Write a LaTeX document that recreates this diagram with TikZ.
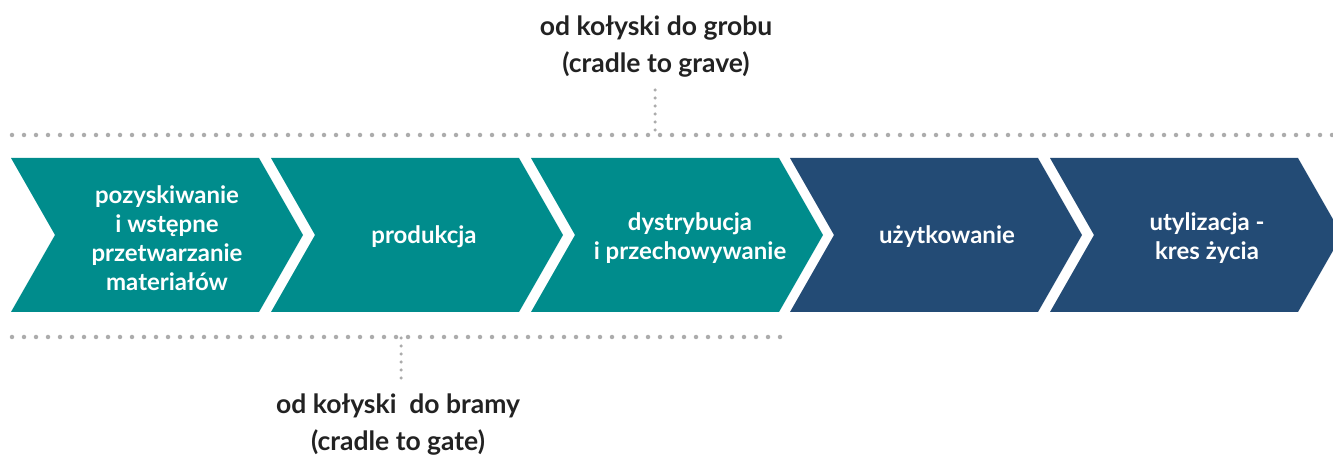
\documentclass[tikz,border=0pt]{standalone}
\usepackage{fontspec}
\setmainfont{Lato}
\definecolor{StageTeal}{RGB}{0, 140, 140}
\definecolor{StageNavy}{RGB}{35, 75, 117}
\definecolor{DotGrey}{RGB}{172, 172, 172}
\definecolor{LabelDark}{RGB}{34, 34, 34}
\usetikzlibrary{positioning, calc}

\begin{document}
\begin{tikzpicture}[x=1pt, y=1pt,
    stagetext/.style={text=white, font=\fontsize{24}{29}\selectfont\bfseries, align=center},
    scopetext/.style={text=LabelDark, font=\fontsize{26.5}{37}\selectfont\bfseries, align=center},
    dotline/.style={DotGrey, line width=4.5pt, line cap=round, dash pattern=on 0pt off 12pt},
    vdotline/.style={DotGrey, line width=3.5pt, line cap=round, dash pattern=on 0pt off 8pt}]
    \useasboundingbox (0,0) rectangle (1333,455);

    % Chevrons of the life cycle
    \foreach \x/\col in {11/StageTeal, 271/StageTeal, 531/StageTeal, 790/StageNavy, 1050/StageNavy} {
        \fill[\col] (\x,297) -- ++(248,0) -- ++(44,-77) -- ++(-44,-77) -- ++(-248,0) -- ++(44,77) -- cycle;
    }

    % Stage labels
    \node[stagetext] (raw) at (167,217) {pozyskiwanie\\i wstępne\\przetwarzanie\\materiałów};
    \node[stagetext] (prod) at (424,218) {produkcja};
    \node[stagetext] (dist) at (690,217) {dystrybucja\\i przechowywanie};
    \node[stagetext] (use) at (947,218) {użytkowanie};
    \node[stagetext] (eol) at (1207,217) {utylizacja -\\kres życia};

    % Scope lines
    \coordinate (graveL) at (12,320);
    \coordinate (graveR) at (1333,320);
    \coordinate (gateL) at (12,118);
    \coordinate (gateR) at (783,118);
    \draw[dotline] (graveL) -- (graveR);
    \draw[dotline] (gateL) -- (gateR);

    % Scope labels
    \node[scopetext] (grave) at (656,408) {od kołyski do grobu\\(cradle to grave)};
    \node[scopetext] (gate) at (398,30) {od kołyski\ \ do bramy\\(cradle to gate)};
    \coordinate (graveTick) at (655,365);
    \coordinate (gateTick) at (401,77);
    \draw[vdotline] (graveTick) -- (graveTick |- graveL);
    \draw[vdotline] (gateTick) -- (gateTick |- gateL);
\end{tikzpicture}
\end{document}
